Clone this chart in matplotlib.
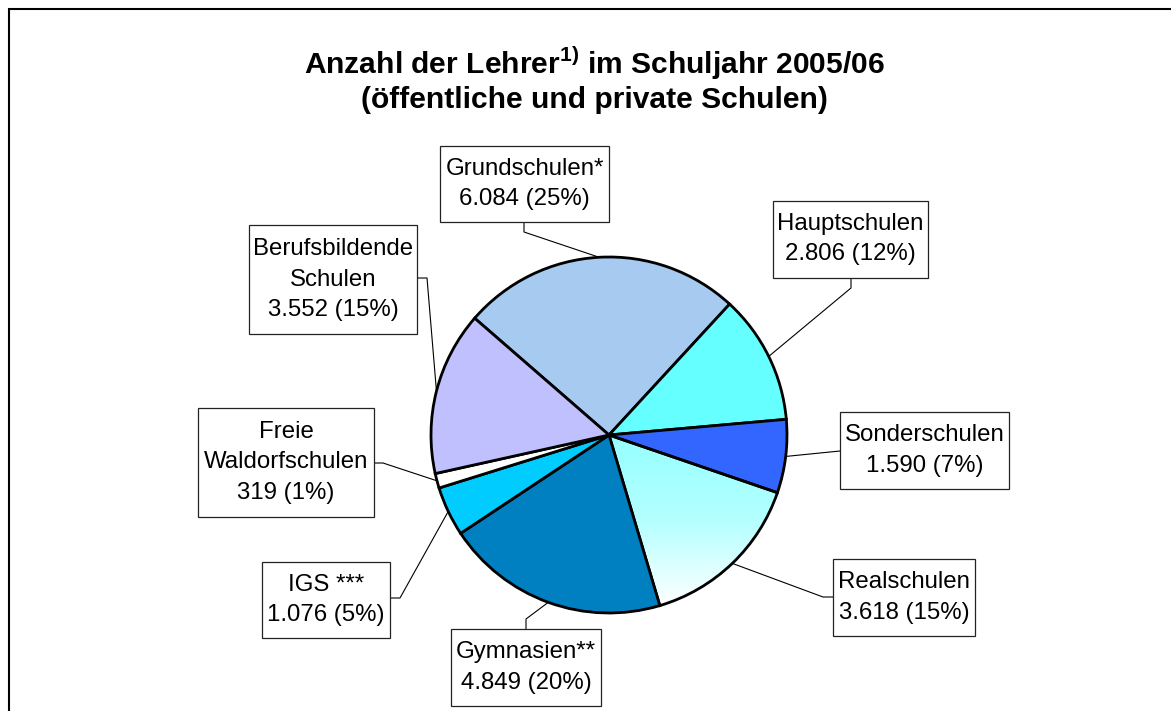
#!/usr/bin/env python3
import numpy as np
import matplotlib
matplotlib.use('Agg')
import matplotlib.pyplot as plt
from matplotlib.patches import Rectangle
from matplotlib.colors import LinearSegmentedColormap

plt.rcParams['font.family'] = ['Liberation Sans', 'DejaVu Sans']
plt.rcParams['mathtext.fontset'] = 'custom'
plt.rcParams['mathtext.rm'] = 'Liberation Sans'
plt.rcParams['mathtext.bf'] = 'Liberation Sans:bold'

# Daten
schularten = ['Grundschulen*', 'Hauptschulen', 'Sonderschulen', 'Realschulen',
              'Gymnasien**', 'IGS ***', 'Freie\nWaldorfschulen', 'Berufsbildende\nSchulen']
lehrer = [6084, 2806, 1590, 3618, 4849, 1076, 319, 3552]
farben = ['#A6CAF0', '#66FFFF', '#3366FF', '#99FFFF', '#0080C0', '#00CCFF', '#FFFFFF', '#C0C0FF']

W, H = 1171, 711

def fy(y):
    # pixel y (von oben) -> daten y (von unten)
    return H - y

# Layout der Beschriftungskaesten (Mitte x, Mitte y, Breite, Hoehe) in Pixeln
boxen = [(524.5, 184, 169, 76), (850.3, 239.2, 155, 77), (924.5, 450.5, 169, 77),
         (904, 597.5, 142, 77), (526, 667.5, 150, 77), (326, 600, 128, 76),
         (286, 462.5, 176, 109), (333, 279.5, 168, 109)]
# Fuehrungslinien: Ansatz am Kasten, Knick
ansatz = [(524, 222), (851, 278), (840, 451), (833, 597),
          (526, 629), (390, 598), (374, 463), (417, 278)]
knick = [(524, 232), (851, 288), (840, 451), (823, 597),
         (526, 619), (400, 598), (383, 463), (427, 278)]

cx, cy, r = 609, fy(435), 178

fig = plt.figure(figsize=(11.71, 7.11), dpi=100)
ax = fig.add_axes([0, 0, 1, 1])

wedges, _ = ax.pie(lehrer, colors=farben, startangle=139, counterclock=False,
                   radius=r, center=(cx, cy),
                   wedgeprops=dict(edgecolor='black', linewidth=2.0))

# Realschulen mit Farbverlauf
w = wedges[3]
w.set_facecolor('none')
bb = w.get_path().get_extents()
verlauf = LinearSegmentedColormap.from_list(
    'rs', [(0, '#96FFFF'), (0.5, '#B4FFFF'), (1, '#FFFFFF')])
im = ax.imshow(np.linspace(0, 1, 256).reshape(-1, 1), cmap=verlauf, origin='upper',
               extent=(bb.x0, bb.x1, bb.y0, bb.y1), aspect='auto', zorder=0.5)
im.set_clip_path(w)

gesamt = sum(lehrer)
for i, (name, n) in enumerate(zip(schularten, lehrer)):
    anteil = round(100 * n / gesamt)
    zahl = f'{n:,}'.replace(',', '.')
    bx, by, bw, bh = boxen[i]
    ax.add_patch(Rectangle((bx - bw / 2, fy(by) - bh / 2), bw, bh, facecolor='white',
                           edgecolor='#222222', linewidth=0.9, zorder=3))
    ax.text(bx, fy(by), f'{name}\n{zahl} ({anteil}%)', ha='center', va='center',
            fontsize=17.3, linespacing=1.5, zorder=4)
    wd = wedges[i]
    mitte = np.deg2rad((wd.theta1 + wd.theta2) / 2)
    ex, ey = cx + r * np.cos(mitte), cy + r * np.sin(mitte)
    ax.plot([ansatz[i][0], knick[i][0], ex], [fy(ansatz[i][1]), fy(knick[i][1]), ey],
            color='black', linewidth=0.8, zorder=2)

ax.text(594, fy(63), r'Anzahl der Lehrer$^{\mathbf{1)}}$ im Schuljahr 2005/06',
        ha='center', va='center', fontsize=21.6, fontweight='bold')
ax.text(594, fy(100), '(öffentliche und private Schulen)',
        ha='center', va='center', fontsize=21.6, fontweight='bold')

# Rahmen
ax.add_patch(Rectangle((8.5, -50), 1300, fy(9) + 50, facecolor='none',
                       edgecolor='black', linewidth=1.5, zorder=5))

ax.set_xlim(0, W)
ax.set_ylim(0, H)
ax.set_aspect('equal')
ax.axis('off')

fig.savefig('out.png', dpi=100)
